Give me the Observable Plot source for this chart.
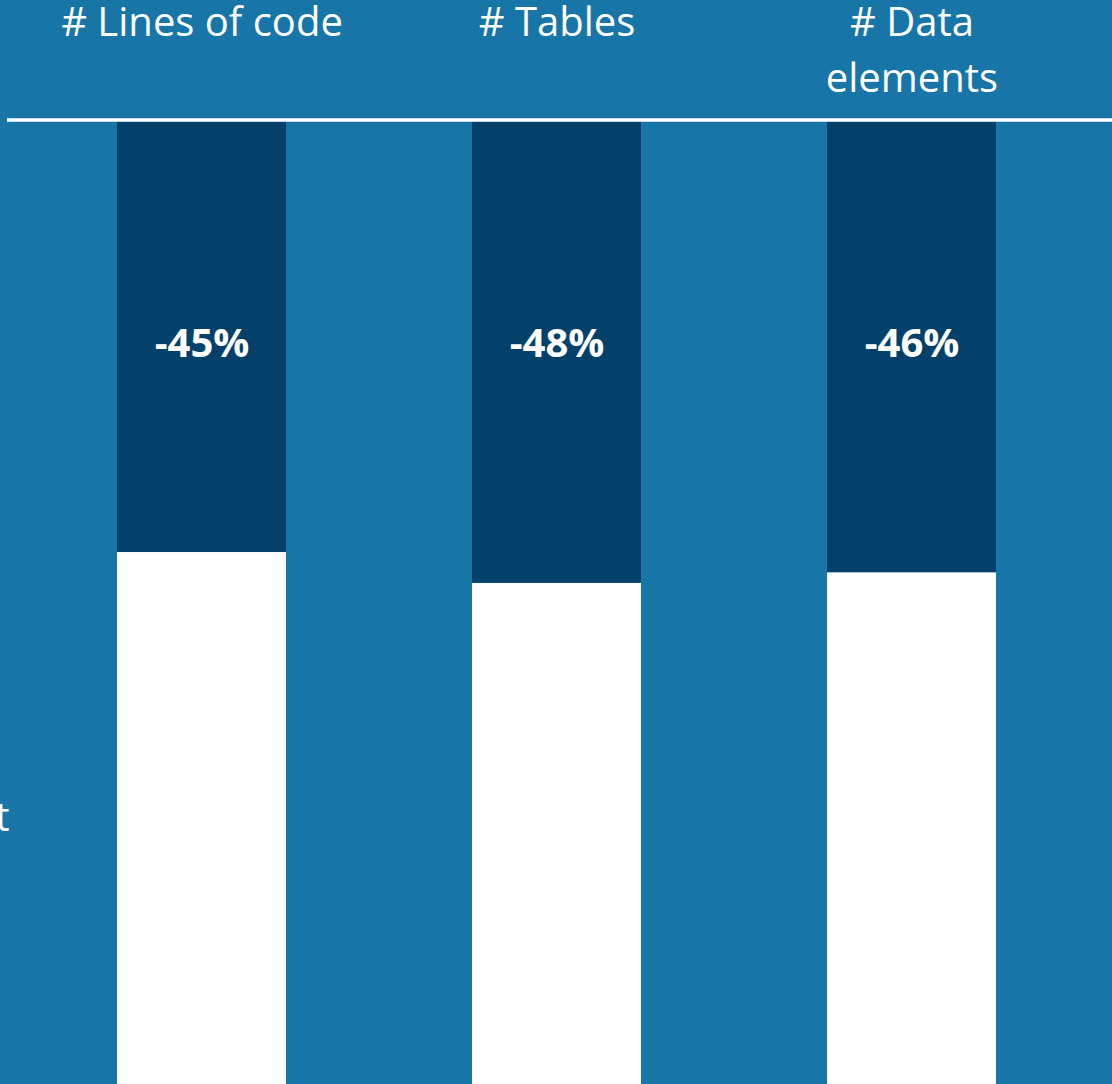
<!DOCTYPE html>
<html>
<head>
<meta charset="utf-8">
<script src="https://cdn.jsdelivr.net/npm/d3@7"></script>
<script src="https://cdn.jsdelivr.net/npm/@observablehq/plot@0.6"></script>
<style>
  html, body { margin: 0; padding: 0; background: #1775a8; }
  #chart svg { display: block; }
</style>
</head>
<body>
<div id="chart"></div>
<script>
const categories = ["# Lines of code", "# Tables", "# Data\nelements"];
const reductions = [44.7, 47.9, 46.8];
const reductionLabels = ["-45%", "-48%", "-46%"];
const sideLabel = ["t"];

const rows = categories.map((c, i) => ({category: c, reduction: reductions[i], label: reductionLabels[i], remaining: 100 - reductions[i]}));

const font = "Open Sans, Lato, sans-serif";

const chart = Plot.plot({
  width: 1112,
  height: 1084,
  marginTop: 122,
  marginBottom: 0,
  marginLeft: 7,
  marginRight: 0,
  style: {background: "#1775a8", fontFamily: font},
  x: {domain: categories, range: [116.5, 995.5], paddingInner: 0.524, paddingOuter: 0, axis: null},
  y: {domain: [0, 100], axis: null},
  marks: [
    Plot.barY(rows, {x: "category", y1: 0, y2: "remaining", fill: "white"}),
    Plot.barY(rows, {x: "category", y1: "remaining", y2: 100, fill: "#03416b"}),
    Plot.ruleY([100], {stroke: "white", strokeWidth: 3.5, dy: -2.5}),
    Plot.text(rows, {x: "category", y: 100, text: "category", fill: "white", fontSize: 40, lineAnchor: "top", lineHeight: 1.4, dy: -126}),
    Plot.text(rows, {x: "category", y: 77, text: "label", fill: "white", fontSize: 40, fontWeight: "bold"}),
    Plot.text(sideLabel, {text: d => d, frameAnchor: "left", y: 27.7, fill: "white", fontSize: 40, textAnchor: "end", dx: 2})
  ]
});
document.getElementById("chart").append(chart);
</script>
</body>
</html>
